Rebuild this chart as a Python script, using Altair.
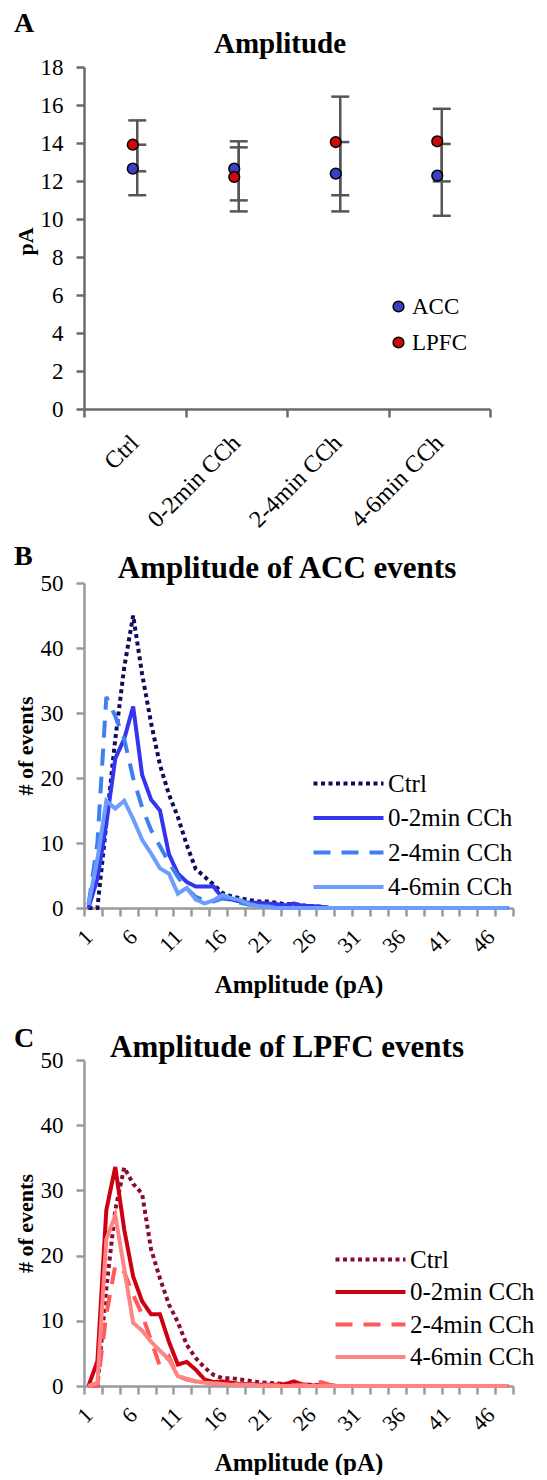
import json
import pandas as pd
import altair as alt

FONT = "Liberation Serif"

# ---------------- Panel A : mean amplitude ----------------
conditions = ["Ctrl", "0-2min CCh", "2-4min CCh", "4-6min CCh"]
regions = ["ACC", "LPFC"]
acc_mean = [12.65, 12.65, 12.39, 12.28]
acc_lo = [11.25, 10.98, 10.40, 10.17]
acc_hi = [13.91, 14.09, 14.05, 13.95]
lpfc_mean = [13.91, 12.21, 14.05, 14.09]
lpfc_lo = [12.51, 10.40, 11.25, 11.98]
lpfc_hi = [15.19, 13.77, 16.44, 15.80]
pA_ticks = [0, 2, 4, 6, 8, 10, 12, 14, 16, 18]

# ---------------- Panels B, C : amplitude histograms ----------------
series = ["Ctrl", "0-2min CCh", "2-4min CCh", "4-6min CCh"]
amp_bins = list(range(1, 49))
amp_labels = [1, 6, 11, 16, 21, 26, 31, 36, 41, 46]
count_ticks = [0, 10, 20, 30, 40, 50]

acc_ctrl = [0, 0, 13, 26, 37, 45, 36, 28.5, 22, 17.5,
            14, 9.7, 6, 4.8, 3.6, 2.3, 1.8, 1.5, 1.2, 1.0,
            1.0, 0.8, 0.6, 0.6, 0.4, 0.3, 0.2, 0, 0, 0,
            0, 0, 0, 0, 0, 0, 0, 0, 0, 0,
            0, 0, 0, 0, 0, 0, 0, 0]
acc_02 = [0, 4.5, 13, 23, 26, 31, 20.5, 16.7, 15, 8.3,
          5.3, 4, 3.3, 3.3, 3.3, 1.5, 1.3, 1.0, 0.8, 0.8,
          0.7, 0.6, 0.4, 0.7, 0.3, 0.3, 0.2, 0, 0, 0,
          0, 0, 0, 0, 0, 0, 0, 0, 0, 0,
          0, 0, 0, 0, 0, 0, 0, 0]
acc_24 = [0.5, 10, 32.5, 29.5, 26, 20, 15.5, 12, 9.5, 7,
          4.8, 3, 1.7, 1.2, 1.0, 1.5, 1.2, 0.8, 0.5, 0.4,
          0.3, 0, 0, 0, 0, 0, 0, 0, 0, 0,
          0, 0, 0, 0, 0, 0, 0, 0, 0, 0,
          0, 0, 0, 0, 0, 0, 0, 0]
acc_46 = [0.5, 7.5, 16.5, 15.3, 16.5, 13.7, 10.5, 8.4, 6.1, 5.3,
          2.2, 3.1, 1.3, 0.7, 1.2, 2, 1.5, 1.2, 0.6, 0.3,
          0.2, 0, 0, 0, 0, 0, 0, 0, 0, 0,
          0, 0, 0, 0, 0, 0, 0, 0, 0, 0,
          0, 0, 0, 0, 0, 0, 0, 0]

lpfc_ctrl = [0, 0, 15, 27, 33.5, 31, 29.5, 21, 16.5, 12.5,
             9.8, 6.3, 4.3, 2.8, 1.7, 1.2, 1.2, 1.0, 0.8, 0.6,
             0.5, 0.4, 0.3, 0.2, 0.2, 0.2, 0.1, 0, 0, 0,
             0, 0, 0, 0, 0, 0, 0, 0, 0, 0,
             0, 0, 0, 0, 0, 0, 0, 0]
lpfc_02 = [0, 3.8, 27, 33.6, 24, 16.8, 13, 11, 11, 6.8,
           3.3, 3.7, 2.5, 1.0, 0.6, 0.7, 0.5, 0.3, 0.3, 0.2,
           0.2, 0.2, 0.3, 0.7, 0.2, 0.1, 0, 0, 0, 0,
           0, 0, 0, 0, 0, 0, 0, 0, 0, 0,
           0, 0, 0, 0, 0, 0, 0, 0]
lpfc_24 = [0, 0, 11, 18.5, 17.5, 14, 11, 7, 3, 4.5,
           1.5, 1.0, 0.7, 0.5, 0.4, 0.3, 0.3, 0.2, 0.2, 0.2,
           0.2, 0.1, 0.1, 0.1, 0.2, 0.3, 0.6, 0.2, 0, 0,
           0, 0, 0, 0, 0, 0, 0, 0, 0, 0,
           0, 0, 0, 0, 0, 0, 0, 0]
lpfc_46 = [0, 0.5, 22.5, 26.2, 18, 9.7, 8.5, 6.8, 5.4, 4.1,
           1.5, 1.1, 0.7, 0.5, 0.4, 0.3, 0.2, 0.2, 0.2, 0.1,
           0, 0, 0, 0, 0, 0, 0, 0, 0, 0,
           0, 0, 0, 0, 0, 0, 0, 0, 0, 0,
           0, 0, 0, 0, 0, 0, 0, 0]

acc_colors = ["#0d0d5c", "#3535ee", "#3f7fef", "#6c9dfc"]
lpfc_colors = ["#8b0a30", "#cc0010", "#ff5a5a", "#ff8585"]
dashes = [[4, 3.5], [1, 0], [17, 11], [1, 0]]

# legend line symbol: a 70px horizontal stroke drawn by a custom path
LEG_SYM_SIZE = 196          # sqrt -> 14 px layout box
LEG_HALF = 35               # half length of the drawn line in px
LEG_PATH = f"M-{LEG_HALF / 7:.4f},0H{LEG_HALF / 7:.4f}"


# ---------------- helpers ----------------
def label_text(txt, x, y, size):
    return alt.Chart(pd.DataFrame({"t": [txt]})).mark_text(
        font=FONT, fontSize=size, fontWeight="bold", align="left",
        baseline="alphabetic", color="black"
    ).encode(text="t:N", x=alt.value(x), y=alt.value(y))


def title_text(txt, x, y, size):
    return alt.Chart(pd.DataFrame({"t": [txt]})).mark_text(
        font=FONT, fontSize=size, fontWeight="bold", align="center",
        baseline="alphabetic", color="black"
    ).encode(text="t:N", x=alt.value(x), y=alt.value(y))


HALF_TEST = "datum.value % 1 === 0"

# ---------------- Panel A ----------------
WA, HA = 406, 342
rowsA, capsA = [], []
for i, c in enumerate(conditions):
    for reg, m, lo, hi in (("ACC", acc_mean[i], acc_lo[i], acc_hi[i]),
                           ("LPFC", lpfc_mean[i], lpfc_lo[i], lpfc_hi[i])):
        rowsA.append({"pos": i + 1, "region": reg, "mean": m, "lo": lo, "hi": hi})
        capsA.append({"pos": i + 1, "region": reg, "cap": lo})
        capsA.append({"pos": i + 1, "region": reg, "cap": hi})
dfA = pd.DataFrame(rowsA)
dfCaps = pd.DataFrame(capsA)

a_axis_vals = [0.5, 1, 1.5, 2, 2.5, 3, 3.5, 4, 4.5]
a_label_expr = f"{HALF_TEST} ? {json.dumps(conditions)}[datum.value - 1] : ''"
A_AX = "#6a6a6a"


def xA(field):
    return alt.X(field, scale=alt.Scale(domain=[0.5, 4.5], nice=False, zero=False),
                 title=None,
                 axis=alt.Axis(values=a_axis_vals, labelExpr=a_label_expr,
                               tickOpacity={"condition": {"test": HALF_TEST, "value": 0}, "value": 1},
                               labelAngle=315, labelAlign="right", labelBaseline="middle",
                               labelFontSize=24, labelPadding=22, tickSize=8, grid=False,
                               domainColor=A_AX, tickColor=A_AX, domainWidth=2.5, tickWidth=2.5,
                               labelOverlap=False, labelFlush=False, labelBound=False))


def yA(field):
    return alt.Y(field, scale=alt.Scale(domain=[0, 18], nice=False, zero=True),
                 title="pA",
                 axis=alt.Axis(values=pA_ticks, grid=False, tickSize=8, labelPadding=13,
                               labelFontSize=23, domainColor=A_AX, tickColor=A_AX,
                               domainWidth=2.5, tickWidth=2.5, titleFontSize=22,
                               titleFontWeight="bold", titleAngle=270, titleX=-59, titleY=174,
                               titleAlign="center", titleBaseline="middle"))


err = alt.Chart(dfA).mark_rule(color="#555555", strokeWidth=2.5, xOffset=2.5).encode(
    x=xA("pos:Q"), y=yA("lo:Q"), y2="hi:Q")
caps = alt.Chart(dfCaps).mark_tick(color="#555555", orient="horizontal", size=18,
                                   thickness=2.5, opacity=1, xOffset=2.5).encode(
    x=xA("pos:Q"), y=yA("cap:Q"))
pts = alt.Chart(dfA).mark_circle(size=115, opacity=1, stroke="black", strokeWidth=1.5,
                                 xOffset=-2).encode(
    x=xA("pos:Q"), y=yA("mean:Q"),
    fill=alt.Fill("region:N", scale=alt.Scale(domain=regions, range=["#3b3fc4", "#cc0a0a"]),
                  legend=alt.Legend(title=None, orient="none", legendX=303, legendY=228,
                                    labelFont=FONT, labelFontSize=23, labelColor="black",
                                    symbolType="circle", symbolSize=115,
                                    symbolStrokeColor="black", symbolStrokeWidth=1.5,
                                    symbolOpacity=1, rowPadding=12, labelOffset=2, padding=0)))

panelA = alt.layer(err, caps, pts,
                   label_text("A", -70, -35, 28),
                   title_text("Amplitude", 196, -14, 29)).properties(width=WA, height=HA)

# ---------------- Panels B, C ----------------
WB = 429
b_axis_vals = sorted(set([i + 0.5 for i in range(0, 49, 2)] + amp_labels))
B_AX = "#9a9a9a"


def hist_panel(values_list, colors, letter, title, vis_h, shift,
               legend_left, legend_y, row_pad, letter_y, title_y):
    rows = []
    for s, vals in zip(series, values_list):
        for a, v in zip(amp_bins, vals):
            rows.append({"series": s, "amp": a, "n": v})
    df = pd.DataFrame(rows)
    H = vis_h + shift
    box = LEG_SYM_SIZE ** 0.5
    leg = dict(title=None, orient="none",
               legendX=legend_left + LEG_HALF - box / 2, legendY=legend_y,
               symbolType=LEG_PATH, symbolSize=LEG_SYM_SIZE, symbolStrokeWidth=4,
               labelFont=FONT, labelFontSize=25, labelColor="black",
               labelOffset=LEG_HALF - box / 2 - 1,
               rowPadding=row_pad, padding=0)
    lines = alt.Chart(df).mark_line(strokeWidth=4).encode(
        x=alt.X("amp:Q", scale=alt.Scale(domain=[0.5, 48.5], nice=False, zero=False),
                title="Amplitude (pA)",
                axis=alt.Axis(values=b_axis_vals,
                              labelExpr=f"{HALF_TEST} ? '' + datum.value : ''",
                              tickOpacity={"condition": {"test": HALF_TEST, "value": 0}, "value": 1},
                              labelAngle=315, labelAlign="right", labelBaseline="middle",
                              labelFontSize=22, labelPadding=17, tickSize=8, grid=False,
                              domainColor=B_AX, tickColor=B_AX, domainWidth=2.5, tickWidth=2.5,
                              labelOverlap=False, labelFlush=False, labelBound=False,
                              titleFontSize=25, titleFontWeight="bold", titleX=214.5, titleY=76,
                              titleAlign="center", titleBaseline="middle")),
        y=alt.Y("n:Q", scale=alt.Scale(domain=[0, 50], range=[H, shift], nice=False),
                title="# of events",
                axis=alt.Axis(values=count_ticks, grid=False, tickSize=8, labelPadding=13,
                              labelFontSize=23, domainColor=B_AX, tickColor=B_AX,
                              domainWidth=2.5, tickWidth=2.5, titleFontSize=22,
                              titleFontWeight="bold", titleAngle=270, titleX=-59,
                              titleY=shift + vis_h / 2, titleAlign="center",
                              titleBaseline="middle")),
        color=alt.Color("series:N", scale=alt.Scale(domain=series, range=colors),
                        legend=alt.Legend(**leg)),
        strokeDash=alt.StrokeDash("series:N", scale=alt.Scale(domain=series, range=dashes),
                                  legend=alt.Legend(**leg)),
    )
    return alt.layer(lines,
                     label_text(letter, -70, letter_y, 28),
                     title_text(title, 203, title_y, 31)).properties(width=WB, height=H)


panelB = hist_panel([acc_ctrl, acc_02, acc_24, acc_46], acc_colors, "B",
                    "Amplitude of ACC events", 325, 22,
                    224, 210, 8.5, 4, 17)
panelC = hist_panel([lpfc_ctrl, lpfc_02, lpfc_24, lpfc_46], lpfc_colors, "C",
                    "Amplitude of LPFC events", 326, 0,
                    246, 187, 6.5, -13, -3)

chart = alt.vconcat(panelA, panelB, panelC, spacing=152, bounds="flush").resolve_scale(
    color="independent", strokeDash="independent", fill="independent"
).resolve_legend(
    color="independent", strokeDash="independent", fill="independent"
).properties(
    padding={"left": 6, "top": 2, "right": 0, "bottom": 0}
).configure_view(stroke=None).configure_axis(
    labelFont=FONT, titleFont=FONT, labelColor="black", titleColor="black"
)

chart.save("out.html", embed_options={"renderer": "svg", "actions": False})
